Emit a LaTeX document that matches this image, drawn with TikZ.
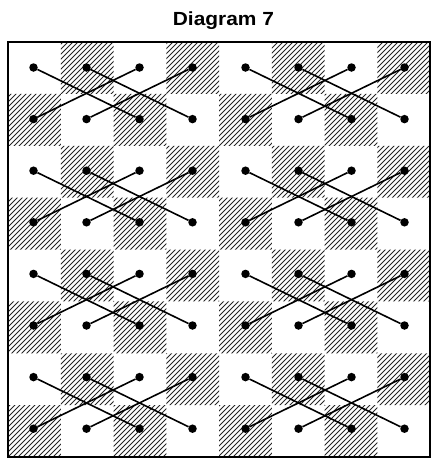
\documentclass[tikz,border=0pt]{standalone}
\usepackage{fontspec}
\newfontfamily\titlefont{Liberation Sans}
\begin{document}
\begin{tikzpicture}[x=1pt,y=-1pt,
  dot/.style={circle,fill=black,inner sep=0pt,minimum size=8.5pt},
  move/.style={line width=1.6pt},
  hatch/.style={line width=0.8pt,black!85},
  frame/.style={line width=1.6pt}]
\useasboundingbox (0,0) rectangle (434,461);
\node[font=\titlefont\bfseries\fontsize{19}{22}\selectfont, anchor=base, inner sep=0pt] (title) at (223.4,25) {\scalebox{1.1}[1]{Diagram 7}};
\begin{scope}
\clip \foreach \r in {1,...,8} {\foreach \k [evaluate=\k as \c using {2*\k-mod(\r+1,2)}] in {1,...,4} {({8+(\c-1)*52.75},{42+(\r-1)*51.875}) rectangle ++(52.75,51.875)}};
\foreach \i in {-85,...,86} \draw[hatch] ({8+5*\i},457) -- ++(415,-415);
\end{scope}
\foreach \r in {1,...,8} \foreach \c in {1,...,8}
  \node[dot] (d\r-\c) at ({33.5+(\c-1)*53.0},{67.5+(\r-1)*51.6}) {};
\foreach \R in {0,2,4,6} \foreach \C in {0,4} {
  \pgfmathtruncatemacro\ra{\R+1}\pgfmathtruncatemacro\rb{\R+2}
  \pgfmathtruncatemacro\ca{\C+1}\pgfmathtruncatemacro\cb{\C+2}
  \pgfmathtruncatemacro\cc{\C+3}\pgfmathtruncatemacro\cd{\C+4}
  \draw[move] (d\ra-\ca) -- (d\rb-\cc);
  \draw[move] (d\ra-\cb) -- (d\rb-\cd);
  \draw[move] (d\ra-\cc) -- (d\rb-\ca);
  \draw[move] (d\ra-\cd) -- (d\rb-\cb);
}
\draw[frame] (8,42) rectangle (430,457);
\end{tikzpicture}
\end{document}
